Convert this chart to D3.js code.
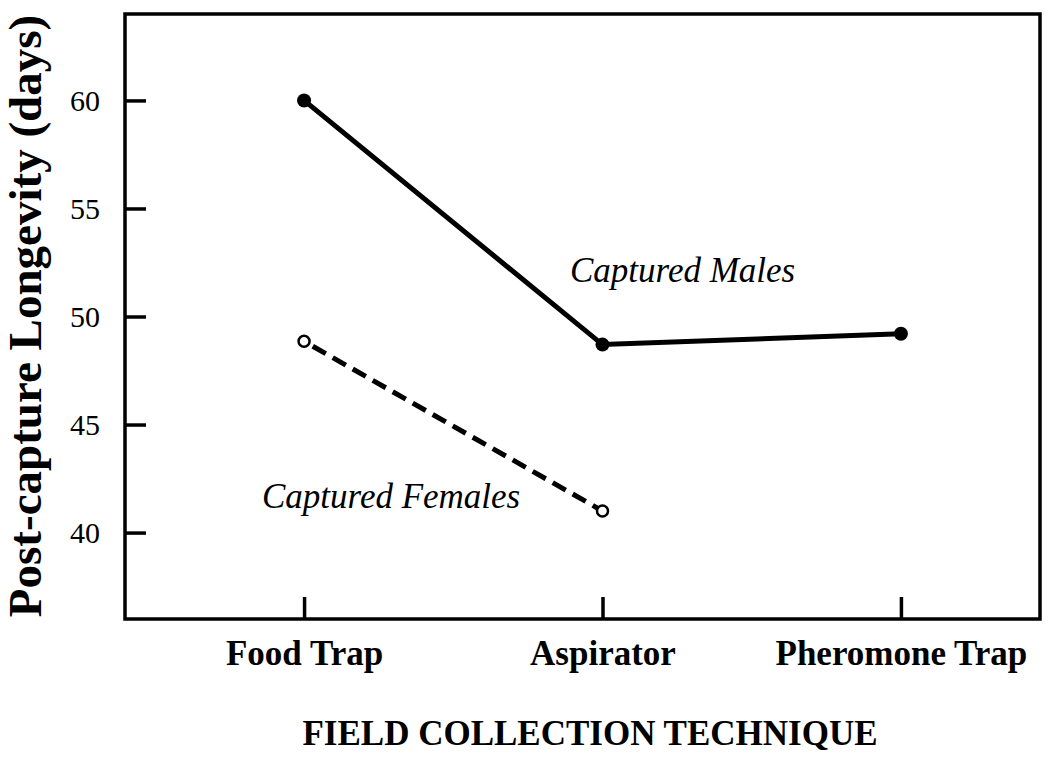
<!DOCTYPE html>
<html>
<head>
<meta charset="utf-8">
<script src="https://cdn.jsdelivr.net/npm/d3@7"></script>
<style>
  body { margin: 0; background: #fff; }
  svg text { font-family: "Liberation Serif", "Times New Roman", serif; fill: #000; }
</style>
</head>
<body>
<div id="chart"></div>
<script>
var categories = ['Food Trap', 'Aspirator', 'Pheromone Trap'];
var malesValues = [60, 48.7, 49.2];
var femalesValues = [48.85, 41.0];
var yTicks = [40, 45, 50, 55, 60];

var W = 1050, H = 759;
var frame = {left: 125, right: 1040, top: 14, bottom: 619};

var svg = d3.select('#chart').append('svg')
    .attr('width', W)
    .attr('height', H);

// index-based x so categories sit where they do in the figure
var xScale = d3.scaleLinear().domain([-0.6, 2.466]).range([frame.left, frame.right]);
var yScale = d3.scaleLinear().domain([36, 64]).range([frame.bottom, frame.top]);

var males = malesValues.map((v, i) => ({i: i, v: v}));
var females = femalesValues.map((v, i) => ({i: i, v: v}));

// frame
svg.append('rect')
    .attr('x', frame.left)
    .attr('y', frame.top)
    .attr('width', frame.right - frame.left)
    .attr('height', frame.bottom - frame.top)
    .style('fill', 'none')
    .style('stroke', '#000')
    .style('stroke-width', 3.5);

// y axis, ticks pointing inward
var yAxis = d3.axisRight(yScale).tickValues(yTicks).tickSize(21).tickPadding(-46);
var gy = svg.append('g').attr('transform', 'translate(' + frame.left + ',0)').call(yAxis);
gy.select('.domain').remove();
gy.selectAll('.tick line').style('stroke', '#000').style('stroke-width', 3.5);
gy.selectAll('.tick text')
    .attr('text-anchor', 'end')
    .attr('dy', '0.34em')
    .style('font-size', '30px');

// x axis, ticks pointing up
var xAxis = d3.axisTop(xScale).tickValues([0, 1, 2]).tickSize(22).tickFormat(i => categories[i]);
var gx = svg.append('g').attr('transform', 'translate(0,' + frame.bottom + ')').call(xAxis);
gx.select('.domain').remove();
gx.selectAll('.tick line').style('stroke', '#000').style('stroke-width', 3.5);
gx.selectAll('.tick text')
    .attr('y', 46)
    .attr('dy', 0)
    .style('font-size', '35px')
    .style('font-weight', 'bold');

var line = d3.line()
    .x(d => xScale(d.i))
    .y(d => yScale(d.v));

// males
svg.append('path')
    .datum(males)
    .attr('d', line)
    .style('fill', 'none')
    .style('stroke', '#000')
    .style('stroke-width', 5);
svg.selectAll('.male').data(males).enter().append('circle')
    .attr('class', 'male')
    .attr('cx', d => xScale(d.i))
    .attr('cy', d => yScale(d.v))
    .attr('r', 7)
    .style('fill', '#000');

// females
svg.append('path')
    .datum(females)
    .attr('d', line)
    .style('fill', 'none')
    .style('stroke', '#000')
    .style('stroke-width', 5)
    .style('stroke-dasharray', '15,8')
    .style('stroke-dashoffset', -10);
svg.selectAll('.female').data(females).enter().append('circle')
    .attr('class', 'female')
    .attr('cx', d => xScale(d.i))
    .attr('cy', d => yScale(d.v))
    .attr('r', 5.5)
    .style('fill', '#fff')
    .style('stroke', '#000')
    .style('stroke-width', 2.5);

// series labels
svg.append('text')
    .attr('x', 570)
    .attr('y', 282)
    .style('font-size', '35px')
    .style('font-style', 'italic')
    .text('Captured Males');
svg.append('text')
    .attr('x', 262)
    .attr('y', 508)
    .style('font-size', '35px')
    .style('font-style', 'italic')
    .text('Captured Females');

// axis titles
svg.append('text')
    .attr('x', 590)
    .attr('y', 745)
    .attr('text-anchor', 'middle')
    .style('font-size', '35px')
    .style('font-weight', 'bold')
    .text('FIELD COLLECTION TECHNIQUE');
svg.append('text')
    .attr('transform', 'translate(41,316) rotate(-90)')
    .attr('text-anchor', 'middle')
    .style('font-size', '47px')
    .style('font-weight', 'bold')
    .text('Post-capture Longevity (days)');
</script>
</body>
</html>
